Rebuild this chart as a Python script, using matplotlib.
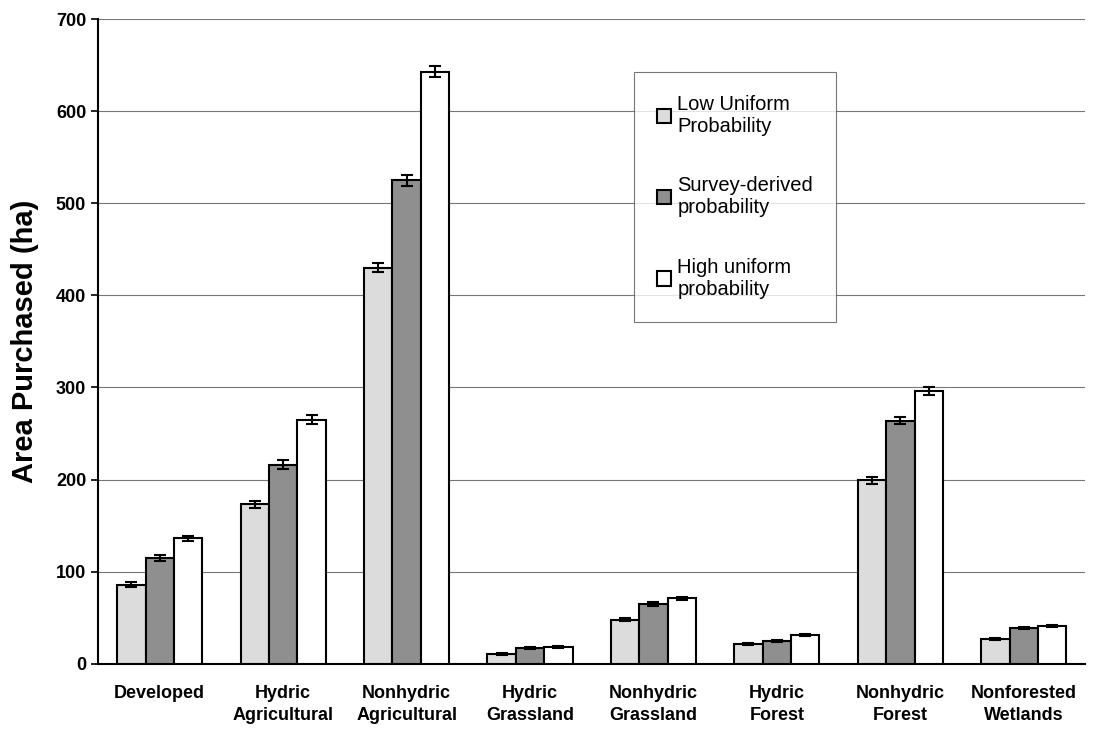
import numpy as np
import matplotlib
matplotlib.use("Agg")
import matplotlib.pyplot as plt

plt.rcParams['font.family'] = ['Liberation Sans', 'DejaVu Sans']

categories = ["Developed", "Hydric\nAgricultural", "Nonhydric\nAgricultural", "Hydric\nGrassland",
              "Nonhydric\nGrassland", "Hydric\nForest", "Nonhydric\nForest", "Nonforested\nWetlands"]
series_names = ["Low Uniform\nProbability", "Survey-derived\nprobability", "High uniform\nprobability"]

low_uniform = [86, 173, 430, 11, 48, 21, 199, 27]
survey_derived = [115, 216, 525, 17, 65, 25, 264, 39]
high_uniform = [136, 265, 643, 18, 71, 31, 296, 41]

low_err = [3, 4, 5, 1, 2, 1, 4, 1]
survey_err = [3, 5, 6, 1, 2, 1, 4, 1]
high_err = [3, 5, 6, 1, 2, 1, 4, 1]

colors = ["#dcdcdc", "#8f8f8f", "#ffffff"]

fig = plt.figure(figsize=(10.96, 7.31), dpi=100)
ax = fig.add_axes([0.0894, 0.092, 0.901, 0.882])

x = np.arange(len(categories))
w = 0.23
for i, (vals, errs) in enumerate(zip([low_uniform, survey_derived, high_uniform],
                                     [low_err, survey_err, high_err])):
    ax.bar(x + (i - 1) * w, vals, w, yerr=errs, color=colors[i], edgecolor="black",
           linewidth=1.5, label=series_names[i], zorder=3,
           error_kw=dict(ecolor="black", elinewidth=1.5, capsize=4, capthick=1.5, zorder=4))

ax.set_xlim(-0.5, len(categories) - 0.5)
ax.set_ylim(0, 700)
ax.set_yticks(range(0, 701, 100))
ax.yaxis.grid(True, color="#777777", linewidth=0.8, zorder=0)
ax.set_axisbelow(True)
for s in ["top", "right"]:
    ax.spines[s].set_visible(False)
ax.spines["left"].set_linewidth(1.5)
ax.spines["bottom"].set_linewidth(1.5)

ax.set_xticks(x)
ax.set_xticklabels(categories, fontsize=13, fontweight="bold", linespacing=1.4)
ax.tick_params(axis="x", length=0, pad=15)
ax.tick_params(axis="y", labelsize=13, width=1.2, length=5)
for lbl in ax.get_yticklabels():
    lbl.set_fontweight("bold")
ax.set_ylabel("Area Purchased (ha)", fontsize=21, fontweight="bold", labelpad=12)

leg = ax.legend(loc="upper left", bbox_to_anchor=(0.543, 0.918), fontsize=14.5,
                frameon=True, fancybox=False, edgecolor="#555555", handlelength=0.7,
                handleheight=0.7, handletextpad=0.3, labelspacing=2.0, borderpad=1.15,
                borderaxespad=0)
leg.get_frame().set_linewidth(0.8)

fig.savefig("out.png", dpi=100)
